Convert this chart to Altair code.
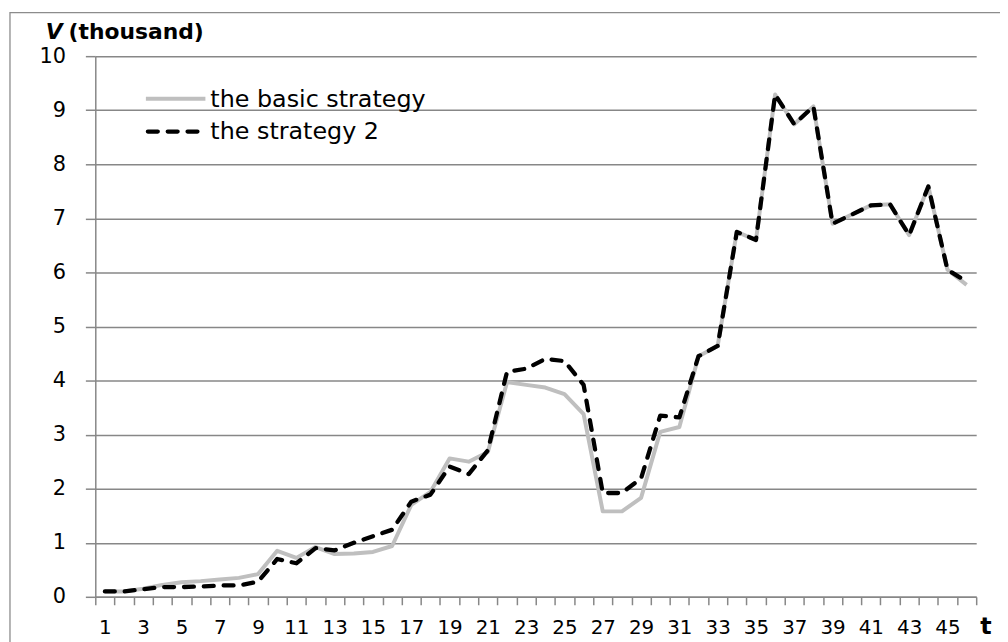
import altair as alt
import pandas as pd

t_values = list(range(1, 47))
basic_strategy = [0.10, 0.10, 0.15, 0.22, 0.27, 0.29, 0.32, 0.35, 0.42, 0.85,
                  0.72, 0.92, 0.79, 0.80, 0.83, 0.94, 1.70, 1.94, 2.56, 2.50,
                  2.68, 3.97, 3.92, 3.87, 3.75, 3.38, 1.58, 1.58, 1.83, 3.05,
                  3.14, 4.45, 4.64, 6.75, 6.60, 9.29, 8.74, 9.07, 6.90, 7.07,
                  7.24, 7.26, 6.69, 7.59, 6.05, 5.77]
strategy_2 = [0.10, 0.10, 0.14, 0.18, 0.18, 0.19, 0.21, 0.21, 0.28, 0.70,
              0.62, 0.90, 0.86, 1.00, 1.12, 1.24, 1.76, 1.89, 2.41, 2.27,
              2.71, 4.16, 4.22, 4.40, 4.36, 3.92, 1.92, 1.92, 2.19, 3.35,
              3.32, 4.45, 4.64, 6.75, 6.60, 9.29, 8.74, 9.07, 6.90, 7.07,
              7.24, 7.26, 6.69, 7.59, 6.05, 5.83]
series_names = ["the basic strategy", "the strategy 2"]
y_ticks = list(range(0, 11))
x_tick_bounds = [i + 0.5 for i in range(0, 47)]
x_label_values = list(range(1, 47, 2))

FONT = "DejaVu Sans"
GRID = "#878787"
W, H = 888, 545

df_basic = pd.DataFrame({"t": t_values, "V": basic_strategy})
df_s2 = pd.DataFrame({"t": t_values, "V": strategy_2})

x_enc = alt.X(
    "t:Q",
    scale=alt.Scale(domain=[0.5, 46.5], nice=False, zero=False),
    axis=alt.Axis(
        title=None,
        values=x_tick_bounds + x_label_values,
        labelExpr="datum.value % 2 == 1 ? datum.value : ''",
        labelOverlap=False,
        labelFlush=False,
        labelBound=False,
        labelFont=FONT,
        labelFontSize=20,
        labelColor="#000000",
        labelPadding=13,
        tickSize=8,
        tickWidth=1.5,
        tickColor=GRID,
        tickOpacity={"condition": {"test": "datum.value % 1 == 0", "value": 0}, "value": 1},
        domainColor=GRID,
        domainWidth=1.5,
        grid=False,
    ),
)
y_enc = alt.Y(
    "V:Q",
    scale=alt.Scale(domain=[0, 10], nice=False),
    axis=alt.Axis(
        title=None,
        values=y_ticks,
        labelFont=FONT,
        labelFontSize=21,
        labelColor="#000000",
        labelPadding=20,
        tickSize=10,
        tickWidth=1.5,
        tickColor=GRID,
        domainColor=GRID,
        domainWidth=1.5,
        grid=True,
        gridColor=GRID,
        gridWidth=1.5,
    ),
)

line_basic = alt.Chart(df_basic).mark_line(
    color="#bfbfbf", strokeWidth=4, strokeJoin="round"
).encode(x=x_enc, y=y_enc)

line_s2 = alt.Chart(df_s2).mark_line(
    color="#000000", strokeWidth=4.3, strokeDash=[10, 10], strokeCap="round", strokeJoin="round"
).encode(x=x_enc, y=y_enc)

# legend
leg1 = pd.DataFrame({"label": [series_names[0]]})
leg2 = pd.DataFrame({"label": [series_names[1]]})
leg_line1 = alt.Chart(leg1).mark_rule(color="#bfbfbf", strokeWidth=4).encode(
    x=alt.value(51), x2=alt.value(111), y=alt.value(43)
)
leg_line2 = alt.Chart(leg2).mark_rule(
    color="#000000", strokeWidth=4.3, strokeDash=[10, 10], strokeCap="round"
).encode(x=alt.value(53), x2=alt.value(109), y=alt.value(76))
leg_text1 = alt.Chart(leg1).mark_text(
    align="left", baseline="alphabetic", font=FONT, fontSize=24, color="#000000"
).encode(x=alt.value(116), y=alt.value(51), text="label:N")
leg_text2 = alt.Chart(leg2).mark_text(
    align="left", baseline="alphabetic", font=FONT, fontSize=24, color="#000000"
).encode(x=alt.value(116), y=alt.value(84), text="label:N")

# axis titles
title_v = alt.Chart(pd.DataFrame({"s": ["V"]})).mark_text(
    align="left", baseline="alphabetic", font=FONT, fontSize=22,
    fontWeight="bold", fontStyle="italic", color="#000000"
).encode(x=alt.value(-50), y=alt.value(-17), text="s:N")
title_th = alt.Chart(pd.DataFrame({"s": ["(thousand)"]})).mark_text(
    align="left", baseline="alphabetic", font=FONT, fontSize=22,
    fontWeight="bold", color="#000000"
).encode(x=alt.value(-27), y=alt.value(-17), text="s:N")
title_t = alt.Chart(pd.DataFrame({"s": ["t"]})).mark_text(
    align="left", baseline="alphabetic", font=FONT, fontSize=24,
    fontWeight="bold", color="#000000"
).encode(x=alt.value(892), y=alt.value(582), text="s:N")

# outer frame
frame = alt.Chart(pd.DataFrame({"f": [0]})).mark_rect(
    fill="transparent", stroke="#8c8c8c", strokeWidth=1.3
).encode(x=alt.value(-86), x2=alt.value(W + 100), y=alt.value(-44), y2=alt.value(H + 100))

chart = alt.layer(
    frame, line_basic, line_s2, leg_line1, leg_line2, leg_text1, leg_text2,
    title_v, title_th, title_t
).properties(
    width=W,
    height=H,
    padding={"left": 88, "top": 46, "right": 24, "bottom": 43},
    autosize=alt.AutoSizeParams(type="none"),
    background="white",
).configure_view(stroke=None)

chart.save("out.html", embed_options={"renderer": "svg", "actions": False})
